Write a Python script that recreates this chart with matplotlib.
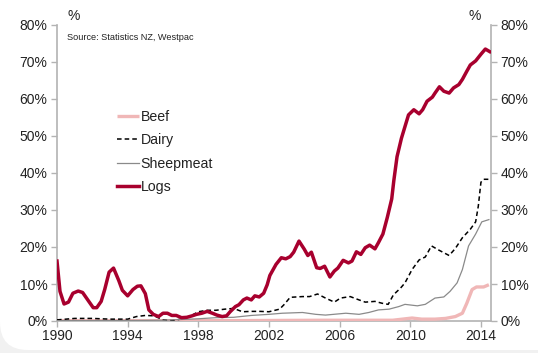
import matplotlib
matplotlib.use("Agg")
import matplotlib.pyplot as plt
from matplotlib.patches import FancyBboxPatch
from matplotlib.transforms import IdentityTransform

plt.rcParams['font.family'] = ['Liberation Sans', 'DejaVu Sans']

# ---- data (share of exports to China, %) ----
logs_x = [1990.0, 1990.17, 1990.4, 1990.65, 1990.9, 1991.2, 1991.45, 1991.8, 1992.05, 1992.25,
          1992.5, 1992.7, 1992.95, 1993.2, 1993.5, 1993.7, 1994.0, 1994.3, 1994.55, 1994.75,
          1995.0, 1995.2, 1995.45, 1995.75, 1996.0, 1996.25, 1996.5, 1996.75, 1997.05, 1997.35,
          1997.65, 1997.9, 1998.2, 1998.5, 1998.8, 1999.05, 1999.35, 1999.6, 1999.8, 2000.1,
          2000.3, 2000.55, 2000.75, 2001.0, 2001.2, 2001.45, 2001.7, 2001.9, 2002.05, 2002.4,
          2002.7, 2002.95, 2003.2, 2003.4, 2003.7, 2004.0, 2004.2, 2004.4, 2004.7, 2004.9,
          2005.15, 2005.45, 2005.7, 2005.9, 2006.2, 2006.5, 2006.7, 2006.95, 2007.2, 2007.45,
          2007.7, 2008.0, 2008.2, 2008.45, 2008.7, 2008.95, 2009.07, 2009.25, 2009.5, 2009.9,
          2010.2, 2010.5, 2010.7, 2010.95, 2011.25, 2011.4, 2011.65, 2011.9, 2012.2, 2012.45,
          2012.75, 2012.95, 2013.2, 2013.4, 2013.7, 2014.0, 2014.25, 2014.5]
logs_y = [16.2, 8.0, 4.6, 5.1, 7.5, 8.1, 7.7, 5.3, 3.6, 3.6,
          5.3, 8.5, 13.2, 14.3, 10.9, 8.3, 6.8, 8.5, 9.4, 9.5,
          7.4, 3.0, 1.8, 1.2, 2.1, 2.1, 1.5, 1.5, 0.9, 1.0,
          1.4, 1.8, 2.1, 2.6, 2.1, 1.6, 1.2, 1.4, 2.5, 3.9,
          4.4, 5.7, 6.2, 5.7, 6.8, 6.5, 7.5, 9.8, 12.3, 15.3,
          17.1, 16.8, 17.4, 18.6, 21.6, 19.4, 17.7, 18.6, 14.4, 14.2,
          14.8, 11.9, 13.5, 14.3, 16.4, 15.7, 16.2, 18.7, 18.0, 19.8,
          20.5, 19.5, 21.2, 23.5, 28.0, 33.0, 38.0, 44.4, 49.4, 55.7,
          57.1, 56.0, 57.1, 59.4, 60.5, 61.6, 63.3, 62.1, 61.6, 63.0,
          63.9, 65.3, 67.5, 69.2, 70.3, 72.1, 73.5, 72.8]

dairy_x = [1990.0, 1991.0, 1992.0, 1993.0, 1994.0, 1994.5, 1995.0, 1995.5, 1996.0, 1996.5,
           1997.0, 1997.5, 1998.0, 1998.5, 1999.0, 1999.5, 2000.0, 2000.5, 2001.0, 2001.5,
           2002.0, 2002.6, 2002.85, 2003.2, 2003.9, 2004.3, 2004.75, 2005.2, 2005.7, 2006.05,
           2006.6, 2007.1, 2007.45, 2008.0, 2008.4, 2008.75, 2009.05, 2009.45, 2009.7, 2010.1,
           2010.5, 2010.85, 2011.2, 2011.6, 2012.2, 2012.55, 2012.95, 2013.4, 2013.7, 2013.85,
           2014.0, 2014.15, 2014.45]
dairy_y = [0.3, 0.7, 0.7, 0.5, 0.5, 1.2, 1.5, 1.4, 0.3, 0.1,
           0.5, 1.2, 2.5, 2.9, 2.9, 3.2, 3.4, 2.5, 2.6, 2.6,
           2.5, 3.2, 4.4, 6.4, 6.6, 6.6, 7.3, 6.2, 5.1, 6.2,
           6.6, 5.7, 5.1, 5.3, 4.8, 4.5, 7.1, 8.9, 10.3, 13.9,
           16.5, 17.3, 20.3, 19.2, 17.7, 19.6, 22.5, 24.8, 26.8, 31.0,
           37.5, 38.3, 38.3]

sheep_x = [1990.0, 1993.0, 1996.0, 1997.5, 1998.0, 1999.0, 2000.0, 2001.0, 2002.0, 2002.75,
           2003.9, 2004.65, 2005.2, 2006.35, 2007.1, 2007.65, 2008.2, 2008.8, 2009.35, 2009.7,
           2010.4, 2010.85, 2011.4, 2011.9, 2012.25, 2012.65, 2012.95, 2013.3, 2013.7, 2014.05,
           2014.45]
sheep_y = [0.1, 0.1, 0.2, 0.5, 0.6, 0.9, 1.0, 1.5, 1.8, 2.1,
           2.3, 1.8, 1.6, 2.1, 1.8, 2.3, 3.0, 3.2, 3.9, 4.5,
           4.1, 4.5, 6.2, 6.5, 8.0, 10.3, 13.9, 20.3, 23.5, 26.8,
           27.4]

beef_x = [1990.0, 1995.0, 2000.0, 2005.0, 2009.0, 2009.55, 2010.1, 2010.65, 2011.4, 2012.0,
          2012.55, 2012.95, 2013.2, 2013.5, 2013.75, 2014.15, 2014.45]
beef_y = [0.1, 0.1, 0.1, 0.2, 0.2, 0.5, 0.8, 0.5, 0.5, 0.7,
          1.2, 2.1, 4.8, 8.5, 9.2, 9.2, 9.8]

xticks = [1990, 1994, 1998, 2002, 2006, 2010, 2014]
yticks = [0, 10, 20, 30, 40, 50, 60, 70, 80]
ytick_labels = [f"{v}%" for v in yticks]

# ---- figure ----
W, H = 538, 353
fig = plt.figure(figsize=(W / 100, H / 100), dpi=100, facecolor='#f1f1f1')
card = FancyBboxPatch((0, 3), W + 30, H + 40, boxstyle="round,pad=0,rounding_size=28",
                      transform=IdentityTransform(), facecolor='white', edgecolor='none', zorder=-10)
fig.patches.append(card)

ax = fig.add_axes([57 / W, 1 - 321 / H, (491 - 57) / W, (321 - 25) / H])
ax.patch.set_alpha(0)
ax.set_zorder(5)

ax.plot(beef_x, beef_y, color='#f0b7b7', lw=2.4, label='Beef', solid_capstyle='butt', zorder=3)
ax.plot(dairy_x, dairy_y, color='black', lw=1.1, ls=(0, (3, 2)), label='Dairy', zorder=4)
ax.plot(sheep_x, sheep_y, color='#8a8a8a', lw=0.9, label='Sheepmeat', zorder=4)
ax.plot(logs_x, logs_y, color='#a8002e', lw=2.5, label='Logs', zorder=5)

ax.set_xlim(1990, 2014.57)
ax.set_ylim(0, 80)
ax.set_xticks(xticks)
ax.set_xticklabels([str(v) for v in xticks])
ax.set_yticks(yticks)
ax.set_yticklabels(ytick_labels)

ax.spines['top'].set_visible(False)
for s in ['left', 'right', 'bottom']:
    ax.spines[s].set_color('#b3b3b3')
    ax.spines[s].set_linewidth(1.2)

ax.tick_params(axis='both', colors='#b3b3b3', labelcolor='#222222', labelsize=10,
               direction='out', length=4, width=1)
ax.tick_params(axis='y', left=True, right=True, labelleft=True, labelright=True, pad=3)
ax.tick_params(axis='x', pad=2)

fig.text(67 / W, 1 - 16 / H, '%', fontsize=10, color='#222222', ha='left', va='center')
fig.text(481 / W, 1 - 16 / H, '%', fontsize=10, color='#222222', ha='right', va='center')
fig.text(67 / W, 1 - 38 / H, 'Source: Statistics NZ, Westpac', fontsize=6.6,
         color='#222222', ha='left', va='center')

leg = ax.legend(loc='upper left', bbox_to_anchor=((117 - 57) / 434, (321 - 110) / 296),
                frameon=False, fontsize=10.2, handlelength=1.55, handletextpad=0.12,
                labelspacing=0.66, borderpad=0, borderaxespad=0)
for t in leg.get_texts():
    t.set_color('#222222')

fig.savefig('out.png', dpi=100, facecolor=fig.get_facecolor())
